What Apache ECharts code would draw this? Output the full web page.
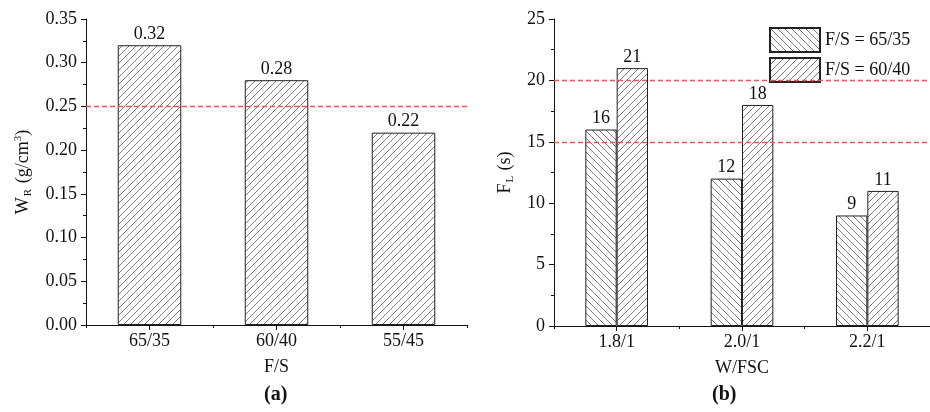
<!DOCTYPE html>
<html><head><meta charset="utf-8">
<script src="https://cdn.jsdelivr.net/npm/echarts@6/dist/echarts.min.js"></script>
<style>html,body{margin:0;padding:0;background:#fff}#c{width:930px;height:412px}</style>
</head><body><div id="c"></div>
<script>
// ---- data ----
const catsA = ['65/35', '60/40', '55/45'];
const valsA = [0.32, 0.28, 0.22];
const refA = [0.25];
const catsB = ['1.8/1', '2.0/1', '2.2/1'];
const seriesB1Name = 'F/S = 65/35';
const seriesB1 = [16, 12, 9];
const seriesB2Name = 'F/S = 60/40';
const seriesB2 = [21, 18, 11];
const refB = [15, 20];

const FONT = 'Liberation Serif';
function hatch(dir) {
  const s = 7, c = document.createElement('canvas');
  c.width = s; c.height = s;
  const g = c.getContext('2d');
  g.fillStyle = '#fff'; g.fillRect(0, 0, s, s);
  g.strokeStyle = '#555'; g.lineWidth = 0.8;
  g.beginPath();
  for (let k = -1; k <= 1; k++) {
    if (dir === '/') { g.moveTo(k * s, s); g.lineTo(k * s + s, 0); }
    else { g.moveTo(k * s, 0); g.lineTo(k * s + s, s); }
  }
  g.stroke();
  return { image: c, repeat: 'repeat' };
}
const fwd = hatch('/'), back = hatch('\\');

const txt = { fontFamily: FONT, fontSize: 18, color: '#111' };
const axisLine = { show: true, lineStyle: { color: '#111', width: 1 } };
function yAxisCfg(grid, max, interval, fmt, name, gap) {
  return {
    type: 'value', gridIndex: grid, min: 0, max: max, interval: interval,
    axisLine: axisLine, splitLine: { show: false },
    axisTick: { show: true, inside: false, length: 5, lineStyle: { color: '#111' } },
    minorTick: { show: true, splitNumber: 2, length: 3, lineStyle: { color: '#111' } },
    axisLabel: Object.assign({ margin: 9, formatter: fmt }, txt),
    name: name, nameLocation: 'middle', nameGap: gap, nameRotate: 90,
    nameTextStyle: {
      fontFamily: FONT, fontSize: 18, color: '#111',
      rich: {
        n: { fontFamily: FONT, fontSize: 18, color: '#111' },
        sub: { fontFamily: FONT, fontSize: 11, color: '#111', verticalAlign: 'bottom', padding: [10, 1, 0, 1] },
        sup: { fontFamily: FONT, fontSize: 11, color: '#111', verticalAlign: 'top', padding: [0, 0, 8, 0] }
      }
    }
  };
}
function xAxisCfg(grid, cats, name) {
  return {
    type: 'category', gridIndex: grid, data: cats,
    axisLine: axisLine,
    axisTick: { show: true, alignWithLabel: true, length: 5, lineStyle: { color: '#111' } },
    axisLabel: Object.assign({ margin: 7 }, txt),
    name: name, nameLocation: 'middle', nameGap: 33, nameTextStyle: txt
  };
}
function xMinor(grid, cats) {
  return {
    type: 'category', gridIndex: grid, data: cats, position: 'bottom',
    axisLine: { show: false }, axisLabel: { show: false },
    axisTick: { show: true, length: 3, lineStyle: { color: '#111' } }
  };
}
const mlStyle = { color: '#e05a5a', type: [5, 3], width: 1.3 };
const barBorder = { borderColor: '#222', borderWidth: 1 };
const lbl = Object.assign({ show: true, position: 'top', distance: 2 }, txt);

const option = {
  animation: false,
  grid: [
    { left: 86, top: 19, width: 381, bottom: 87, containLabel: false },
    { left: 554, top: 19, width: 381, bottom: 86, containLabel: false }
  ],
  xAxis: [xAxisCfg(0, catsA, 'F/S'), xAxisCfg(1, catsB, 'W/FSC'), xMinor(0, catsA), xMinor(1, catsB)],
  yAxis: [
    yAxisCfg(0, 0.35, 0.05, v => v.toFixed(2), '{n|W}{sub|R}{n| (g/cm}{sup|3}{n|)}', 52),
    yAxisCfg(1, 25, 5, v => String(v), '{n|F}{sub|L}{n| (s)}', 38)
  ],
  legend: {
    show: true, orient: 'vertical', left: 764, top: 22, itemWidth: 50, itemHeight: 24, itemGap: 4,
    icon: 'rect', textStyle: txt, selectedMode: false, data: [seriesB1Name, seriesB2Name]
  },
  series: [
    {
      type: 'bar', xAxisIndex: 0, yAxisIndex: 0, data: valsA, barWidth: '50%',
      itemStyle: Object.assign({ color: fwd }, barBorder), label: lbl,
      markLine: { silent: true, symbol: 'none', label: { show: false }, lineStyle: mlStyle,
        data: refA.map(v => ({ yAxis: v })) }
    },
    {
      type: 'bar', name: seriesB1Name, xAxisIndex: 1, yAxisIndex: 1, data: seriesB1,
      barCategoryGap: '50%', barGap: '0%',
      itemStyle: Object.assign({ color: back }, barBorder), label: lbl,
      markLine: { silent: true, symbol: 'none', label: { show: false }, lineStyle: mlStyle,
        data: refB.map(v => ({ yAxis: v })) }
    },
    {
      type: 'bar', name: seriesB2Name, xAxisIndex: 1, yAxisIndex: 1, data: seriesB2,
      barCategoryGap: '50%', barGap: '0%',
      itemStyle: Object.assign({ color: fwd }, barBorder), label: lbl
    }
  ],
  graphic: [
    { type: 'text', left: 264, top: 385, style: { text: '(a)', font: 'bold 20px "' + FONT + '"', fill: '#111' } },
    { type: 'text', left: 712, top: 385, style: { text: '(b)', font: 'bold 20px "' + FONT + '"', fill: '#111' } }
  ]
};
const chart = echarts.init(document.getElementById('c'), null, { renderer: 'canvas' });
chart.setOption(option);
</script></body></html>
